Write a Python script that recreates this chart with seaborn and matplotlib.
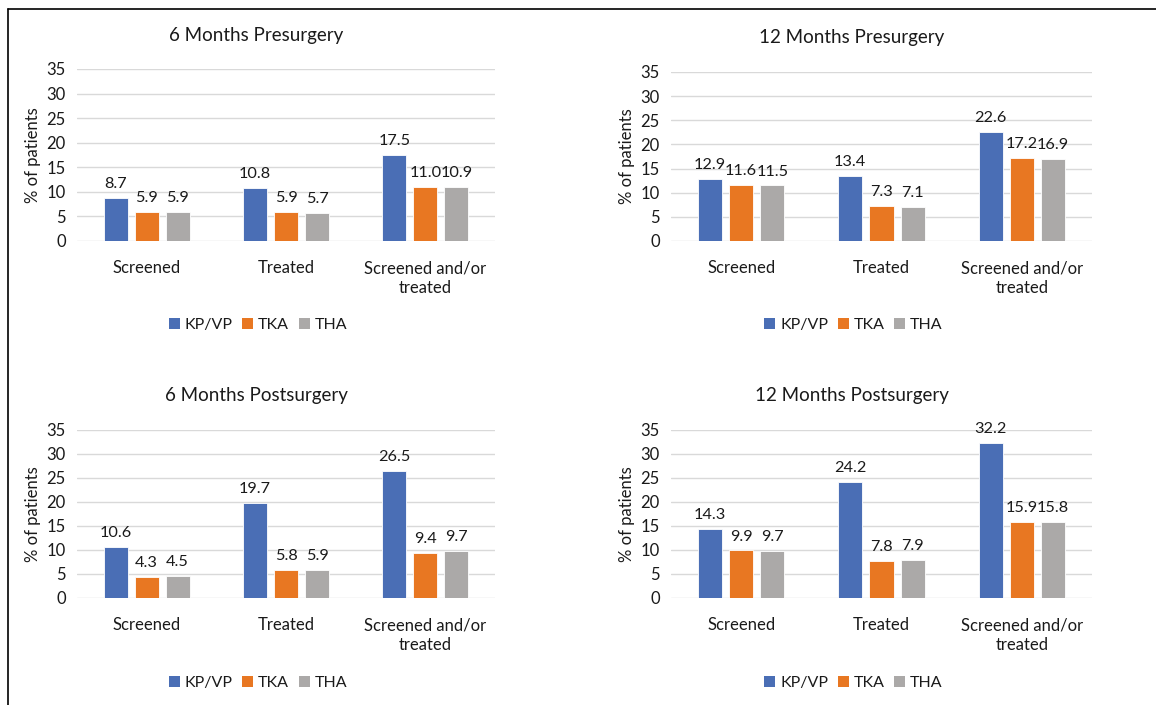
import pandas as pd
import seaborn as sns
import matplotlib.pyplot as plt
from matplotlib.lines import Line2D
from matplotlib.patches import Patch

# Data
categories = ['Screened', 'Treated', 'Screened and/or\ntreated']
groups = ['KP/VP', 'TKA', 'THA']
titles = ['6 Months Presurgery', '12 Months Presurgery',
          '6 Months Postsurgery', '12 Months Postsurgery']

pre6_kpvp = [8.7, 10.8, 17.5]
pre6_tka = [5.9, 5.9, 11.0]
pre6_tha = [5.9, 5.7, 10.9]

pre12_kpvp = [12.9, 13.4, 22.6]
pre12_tka = [11.6, 7.3, 17.2]
pre12_tha = [11.5, 7.1, 16.9]

post6_kpvp = [10.6, 19.7, 26.5]
post6_tka = [4.3, 5.8, 9.4]
post6_tha = [4.5, 5.9, 9.7]

post12_kpvp = [14.3, 24.2, 32.2]
post12_tka = [9.9, 7.8, 15.9]
post12_tha = [9.7, 7.9, 15.8]

panel_values = [
    (pre6_kpvp, pre6_tka, pre6_tha),
    (pre12_kpvp, pre12_tka, pre12_tha),
    (post6_kpvp, post6_tka, post6_tha),
    (post12_kpvp, post12_tka, post12_tha),
]

colors = ['#4A6EB5', '#E87722', '#ABA9A8']

sns.set_theme(style='white')
plt.rcParams['font.family'] = ['Lato', 'DejaVu Sans']
text_color = '#1a1a1a'
fs = 12

fig = plt.figure(figsize=(11.56, 7.05), dpi=100)
W, H = 1156, 705

# axes boxes in pixels: (left, right, top(35), bottom(0))
boxes = [(77, 495, 69, 241), (671, 1092, 72, 241),
         (77, 495, 430, 598), (671, 1092, 430, 598)]
title_y = [35, 38, 396, 396]
legend_y = [325, 325, 683, 683]

for i, (vals, title) in enumerate(zip(panel_values, titles)):
    l, r, t, b = boxes[i]
    ax = fig.add_axes([l / W, 1 - b / H, (r - l) / W, (b - t) / H])

    df = pd.DataFrame({
        'category': categories * 3,
        'group': [g for g in groups for _ in categories],
        'value': list(vals[0]) + list(vals[1]) + list(vals[2]),
    })
    sns.barplot(data=df, x='category', y='value', hue='group',
                palette=colors, saturation=1, width=0.667, gap=0.226, ax=ax,
                edgecolor='white', linewidth=0.6, legend=False)
    for cont in ax.containers:
        ax.bar_label(cont, fmt='%.1f', padding=5, fontsize=11.7, color=text_color)

    ax.set_ylim(0, 35)
    ax.set_yticks(range(0, 36, 5))
    ax.set_xlim(-0.5, 2.5)
    ax.grid(axis='y', color='#D9D9D9', linewidth=1)
    ax.set_axisbelow(True)
    for s in ax.spines.values():
        s.set_visible(False)
    ax.tick_params(axis='both', length=0, labelsize=fs, colors=text_color)
    ax.tick_params(axis='x', pad=14)
    ax.tick_params(axis='y', pad=8)
    for lab in ax.get_xticklabels():
        lab.set_linespacing(1.3)
    ax.set_xlabel('')
    ax.set_ylabel('% of patients', fontsize=fs, color=text_color, labelpad=4)

    cx = (l + r) / 2
    fig.text((cx - 30) / W, 1 - title_y[i] / H, title, ha='center', va='center',
             fontsize=13.5, color=text_color)

    handles = [Patch(facecolor=c, edgecolor='none') for c in colors]
    fig.legend(handles, groups, loc='center',
               bbox_to_anchor=((cx - 28) / W, 1 - legend_y[i] / H),
               ncol=3, frameon=False, fontsize=11.5, handlelength=0.7,
               handleheight=0.75, handletextpad=0.3, columnspacing=0.6,
               labelcolor=text_color)

# outer frame lines (top and left)
fig.add_artist(Line2D([8 / W, 1], [1 - 9 / H, 1 - 9 / H], color='black', linewidth=1.2))
fig.add_artist(Line2D([8 / W, 8 / W], [0, 1 - 9 / H], color='black', linewidth=1.2))

fig.savefig('out.png', dpi=100, facecolor='white')
